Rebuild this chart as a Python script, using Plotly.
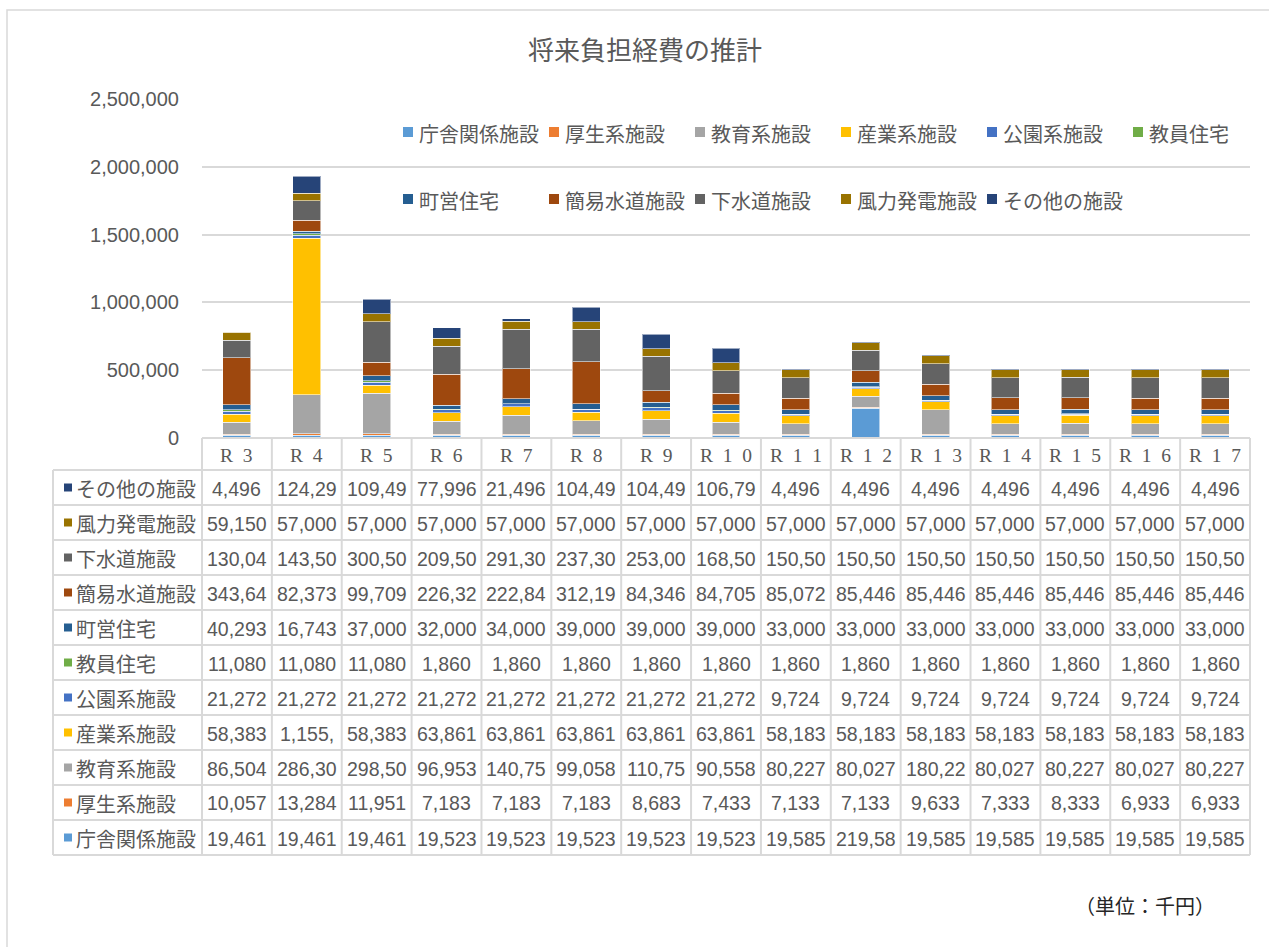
import plotly.graph_objects as go

# ---- data (単位：千円) ----
categories = ["R\u20023", "R\u20024", "R\u20025", "R\u20026", "R\u20027", "R\u20028", "R\u20029",
              "R\u20021\u20020", "R\u20021\u20021", "R\u20021\u20022", "R\u20021\u20023",
              "R\u20021\u20024", "R\u20021\u20025", "R\u20021\u20026", "R\u20021\u20027"]

series_names = ["庁舎関係施設", "厚生系施設", "教育系施設", "産業系施設", "公園系施設", "教員住宅",
                "町営住宅", "簡易水道施設", "下水道施設", "風力発電施設", "その他の施設"]

chosha = [19461, 19461, 19461, 19523, 19523, 19523, 19523, 19523, 19585, 219585, 19585, 19585, 19585, 19585, 19585]
kousei = [10057, 13284, 11951, 7183, 7183, 7183, 8683, 7433, 7133, 7133, 9633, 7333, 8333, 6933, 6933]
kyouiku = [86504, 286300, 298500, 96953, 140750, 99058, 110750, 90558, 80227, 80027, 180227, 80027, 80227, 80027, 80227]
sangyou = [58383, 1155500, 58383, 63861, 63861, 63861, 63861, 63861, 58183, 58183, 58183, 58183, 58183, 58183, 58183]
kouen = [21272, 21272, 21272, 21272, 21272, 21272, 21272, 21272, 9724, 9724, 9724, 9724, 9724, 9724, 9724]
kyouin = [11080, 11080, 11080, 1860, 1860, 1860, 1860, 1860, 1860, 1860, 1860, 1860, 1860, 1860, 1860]
chouei = [40293, 16743, 37000, 32000, 34000, 39000, 39000, 39000, 33000, 33000, 33000, 33000, 33000, 33000, 33000]
kansui = [343640, 82373, 99709, 226320, 222840, 312190, 84346, 84705, 85072, 85446, 85446, 85446, 85446, 85446, 85446]
gesui = [130040, 143500, 300500, 209500, 291300, 237300, 253000, 168500, 150500, 150500, 150500, 150500, 150500, 150500, 150500]
fuuryoku = [59150, 57000, 57000, 57000, 57000, 57000, 57000, 57000, 57000, 57000, 57000, 57000, 57000, 57000, 57000]
sonota = [4496, 124296, 109496, 77996, 21496, 104496, 104496, 106796, 4496, 4496, 4496, 4496, 4496, 4496, 4496]

series_values = [chosha, kousei, kyouiku, sangyou, kouen, kyouin, chouei, kansui, gesui, fuuryoku, sonota]

colors = ["#5B9BD5", "#ED7D31", "#A5A5A5", "#FFC000", "#4472C4", "#70AD47",
          "#255E91", "#9E480E", "#636363", "#997300", "#264478"]

y_ticks = [0, 500000, 1000000, 1500000, 2000000, 2500000]

title_text = "将来負担経費の推計"
unit_text = "（単位：千円）"

# ---- page geometry (pixels) ----
W, H = 1269, 947
PL, PR, PT, PB = 202, 1250, 99, 438   # plot area edges
TXT = "#595959"
GRID = "#D9D9D9"
NUM_FONT = "Liberation Sans, Arial, Noto Sans CJK JP"
JP_FONT = "Noto Sans CJK JP, Liberation Sans"


def px(x):
    return (x - PL) / (PR - PL)


def py(y):
    return (PB - y) / (PB - PT)


n = len(categories)
col_w = (PR - PL) / n

fig = go.Figure()
for name, vals, col in zip(series_names, series_values, colors):
    fig.add_trace(go.Bar(
        x=list(range(n)), y=vals, name=name,
        marker=dict(color=col, line=dict(color="rgba(255,255,255,0.55)", width=1)),
        showlegend=False,
    ))

shapes = []
annotations = []

# outer chart border
shapes.append(dict(type="rect", xref="paper", yref="paper",
                   x0=px(7), x1=px(1300), y0=py(10), y1=py(990),
                   line=dict(color=GRID, width=1.5), fillcolor="rgba(0,0,0,0)", layer="below"))

# title
annotations.append(dict(xref="paper", yref="paper", x=px(645), y=py(49),
                        text=title_text, showarrow=False, xanchor="center", yanchor="middle",
                        font=dict(family=JP_FONT, size=26, color=TXT)))

# legend (two rows inside the plot area)
legend_rows = [list(range(0, 6)), list(range(6, 11))]
legend_y = [132, 199]
for r, idxs in enumerate(legend_rows):
    for k, si in enumerate(idxs):
        x0 = 403 + 146 * k
        yc = legend_y[r]
        shapes.append(dict(type="rect", xref="paper", yref="paper",
                           x0=px(x0), x1=px(x0 + 10), y0=py(yc - 5), y1=py(yc + 5),
                           line=dict(width=0), fillcolor=colors[si]))
        annotations.append(dict(xref="paper", yref="paper", x=px(x0 + 14), y=py(yc + 1),
                                text=series_names[si], showarrow=False,
                                xanchor="left", yanchor="middle",
                                font=dict(family=JP_FONT, size=20, color=TXT)))

# data table
T_LEFT = 53
HDR_BOT = 470
ROW_H = 35
n_rows = len(series_names)
T_BOT = HDR_BOT + ROW_H * n_rows
line_style = dict(color=GRID, width=2)

# horizontal lines
shapes.append(dict(type="line", xref="paper", yref="paper",
                   x0=px(PL), x1=px(PR), y0=py(PB), y1=py(PB), line=line_style))
for r in range(n_rows + 1):
    yy = HDR_BOT + ROW_H * r
    shapes.append(dict(type="line", xref="paper", yref="paper",
                       x0=px(T_LEFT), x1=px(PR), y0=py(yy), y1=py(yy), line=line_style))
# vertical lines
shapes.append(dict(type="line", xref="paper", yref="paper",
                   x0=px(T_LEFT), x1=px(T_LEFT), y0=py(HDR_BOT), y1=py(T_BOT), line=line_style))
for c in range(n + 1):
    xx = PL + col_w * c
    shapes.append(dict(type="line", xref="paper", yref="paper",
                       x0=px(xx), x1=px(xx), y0=py(PB), y1=py(T_BOT), line=line_style))

# header row (categories)
for i, cat in enumerate(categories):
    annotations.append(dict(xref="x", yref="paper", x=i, y=py((PB + HDR_BOT) / 2 + 1),
                            text=cat, showarrow=False, xanchor="center", yanchor="middle",
                            font=dict(family="Liberation Serif, DejaVu Serif", size=19.5, color=TXT)))

# body rows: top row is the last series
for r in range(n_rows):
    si = n_rows - 1 - r
    yc = HDR_BOT + ROW_H * r + ROW_H / 2
    shapes.append(dict(type="rect", xref="paper", yref="paper",
                       x0=px(64), x1=px(72), y0=py(yc + 4), y1=py(yc - 4),
                       line=dict(width=0), fillcolor=colors[si]))
    annotations.append(dict(xref="paper", yref="paper", x=px(74), y=py(yc + 1),
                            text=series_names[si], showarrow=False,
                            xanchor="left", yanchor="middle",
                            font=dict(family=JP_FONT, size=20, color=TXT)))
    for i, v in enumerate(series_values[si]):
        label = f"{v:,}"[:6]   # cell is only wide enough for six characters
        annotations.append(dict(xref="x", yref="paper", x=i, y=py(yc + 1),
                                text=label, showarrow=False,
                                xanchor="center", yanchor="middle",
                                font=dict(family=NUM_FONT, size=19.5, color=TXT)))

# unit note
annotations.append(dict(xref="paper", yref="paper", x=px(1145), y=py(905),
                        text=unit_text, showarrow=False, xanchor="center", yanchor="middle",
                        font=dict(family=JP_FONT, size=20, color="#262626")))

fig.update_layout(
    width=W, height=H,
    margin=dict(l=PL, r=W - PR, t=PT, b=H - PB, pad=0),
    barmode="stack", bargap=0.6,
    plot_bgcolor="white", paper_bgcolor="white",
    xaxis=dict(range=[-0.5, n - 0.5], showticklabels=False, showgrid=False,
               zeroline=False, showline=False, fixedrange=True),
    yaxis=dict(range=[0, 2500000], tickvals=y_ticks, tickformat=",d",
               showgrid=True, gridcolor=GRID, gridwidth=1.5,
               zeroline=False, showline=False, ticks="",
               ticklabelstandoff=22,
               tickfont=dict(family=NUM_FONT, size=20, color=TXT)),
    shapes=shapes, annotations=annotations,
    hovermode=False,
)

fig.write_html("out.html")
